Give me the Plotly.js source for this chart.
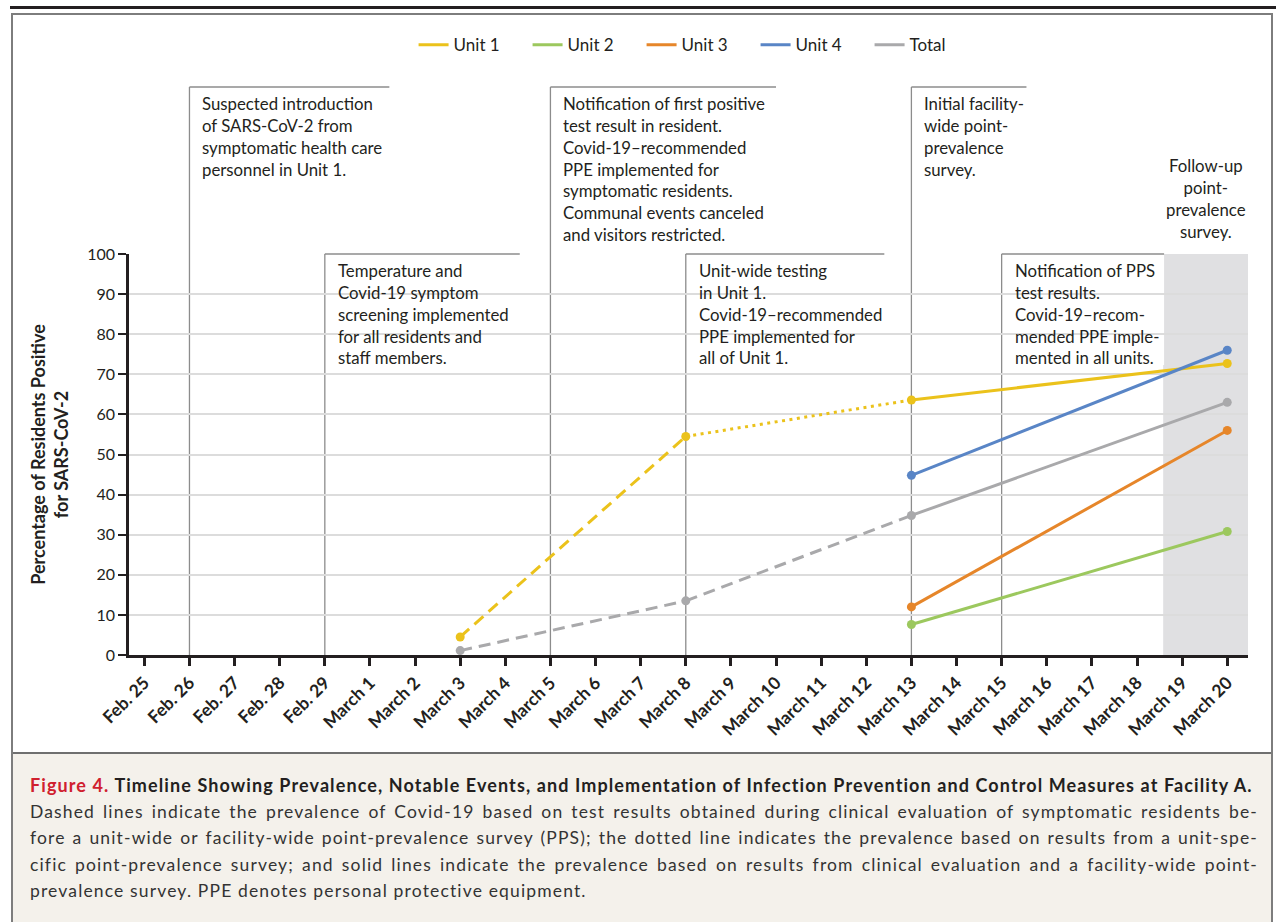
<!DOCTYPE html>
<html>
<head>
<meta charset="utf-8">
<script src="https://cdn.plot.ly/plotly-3.0.1.min.js"></script>
<style>
  body { margin: 0; background: #ffffff; }
  #wrap { position: relative; width: 1276px; height: 922px; overflow: hidden; font-family: Lato, "Open Sans", sans-serif; background: #fff; }
  #chart { position: absolute; left: 0; top: 0; width: 1276px; height: 753px; }
  .topbar { position: absolute; left: 10px; top: 6px; width: 1266px; height: 3px; background: #231f20; }
  .frame { position: absolute; left: 11px; top: 13px; width: 1258px; height: 1000px; border: 2px solid #7d7d7d; border-bottom: none; pointer-events: none; }
  .sep { position: absolute; left: 11px; top: 752px; width: 1262px; height: 2px; background: #6f6f6f; }
  #caption { position: absolute; left: 13px; top: 754px; width: 1258px; height: 168px; background: #f4f1eb; box-sizing: border-box; padding: 18px 13px 0 17px; color: #333; }
  #caption .ln { font-size: 17.5px; line-height: 26.5px; white-space: nowrap; text-align: justify; text-align-last: justify; letter-spacing: 1.15px; }
  #caption .ln.last { text-align: left; text-align-last: left; }
  #caption .title { font-size: 18px; font-weight: 700; color: #231f20; text-align: left; text-align-last: left; letter-spacing: 1.1px; }
  #caption .red { color: #d0202e; }
</style>
</head>
<body>
<div id="wrap">
  <div id="chart"></div>
  <div class="topbar"></div>
  <div class="sep"></div>
  <div id="caption">
    <div class="ln title"><span class="red">Figure 4.</span> Timeline Showing Prevalence, Notable Events, and Implementation of Infection Prevention and Control Measures at Facility A.</div>
    <div class="ln">Dashed lines indicate the prevalence of Covid-19 based on test results obtained during clinical evaluation of symptomatic residents be-</div>
    <div class="ln">fore a unit-wide or facility-wide point-prevalence survey (PPS); the dotted line indicates the prevalence based on results from a unit-spe-</div>
    <div class="ln">cific point-prevalence survey; and solid lines indicate the prevalence based on results from clinical evaluation and a facility-wide point-</div>
    <div class="ln last">prevalence survey. PPE denotes personal protective equipment.</div>
  </div>
  <div class="frame"></div>
</div>
<script>
// ---------------- DATA ----------------
const categories = ['Feb. 25','Feb. 26','Feb. 27','Feb. 28','Feb. 29','March 1','March 2','March 3','March 4',
  'March 5','March 6','March 7','March 8','March 9','March 10','March 11','March 12','March 13','March 14',
  'March 15','March 16','March 17','March 18','March 19','March 20'];

const unit1Dates  = ['March 3','March 8','March 13','March 20'];
const unit1Values = [4.5, 54.5, 63.6, 72.7];
const unit1Kinds  = ['dash','dot','solid'];

const unit2Dates  = ['March 13','March 20'];
const unit2Values = [7.6, 30.8];
const unit2Kinds  = ['solid'];

const unit3Dates  = ['March 13','March 20'];
const unit3Values = [12.0, 56.0];
const unit3Kinds  = ['solid'];

const unit4Dates  = ['March 13','March 20'];
const unit4Values = [44.8, 76.0];
const unit4Kinds  = ['solid'];

const totalDates  = ['March 3','March 8','March 13','March 20'];
const totalValues = [1.1, 13.5, 34.8, 63.0];
const totalKinds  = ['dash','dash','solid'];

const eventDates = ['Feb. 26','Feb. 29','March 5','March 8','March 13','March 15'];
const eventTexts = [
  'Suspected introduction<br>of SARS-CoV-2 from<br>symptomatic health care<br>personnel in Unit 1.',
  'Temperature and<br>Covid-19 symptom<br>screening implemented<br>for all residents and<br>staff members.',
  'Notification of first positive<br>test result in resident.<br>Covid-19–recommended<br>PPE implemented for<br>symptomatic residents.<br>Communal events canceled<br>and visitors restricted.',
  'Unit-wide testing<br>in Unit 1.<br>Covid-19–recommended<br>PPE implemented for<br>all of Unit 1.',
  'Initial facility-<br>wide point-<br>prevalence<br>survey.',
  'Notification of PPS<br>test results.<br>Covid-19–recom-<br>mended PPE imple-<br>mented in all units.'
];
const followUpText = 'Follow-up<br>point-<br>prevalence<br>survey.';

// ---------------- STYLE / LAYOUT ----------------
const colors = { 'Unit 1':'#ebc21b', 'Unit 2':'#9cc85e', 'Unit 3':'#e6862a', 'Unit 4':'#5985c6', 'Total':'#a9a9ab' };
const dashMap = { solid:'solid', dash:'12px,7px', dot:'3px,4.5px' };
// box geometry: [top in paper units, width in category units]
const boxGeom = [[1.4165, 4.43],[1.0, 4.32],[1.4165, 5.0],[1.0, 4.4],[1.4165, 2.55],[1.0, 3.6]];
const shortBoxBottom = 0.723;
const shadeStart = 22.58, xMin = -0.34, xMax = 24.46;

function seriesTraces(name, dates, values, kinds, rank) {
  const out = [];
  for (let i = 0; i < kinds.length; i++) {
    out.push({
      type:'scatter', mode:'lines', name:name, legendgroup:name, legendrank:rank,
      x: dates.slice(i, i+2), y: values.slice(i, i+2),
      line:{ color: colors[name], width: 3, dash: dashMap[kinds[i]] },
      showlegend: kinds[i] === 'solid', hoverinfo:'skip', cliponaxis:false
    });
  }
  out.push({
    type:'scatter', mode:'markers', name:name, legendgroup:name, showlegend:false,
    x: dates, y: values, marker:{ color: colors[name], size: 9 }, cliponaxis:false,
    hovertemplate: name + ' %{x}: %{y}%<extra></extra>'
  });
  return out;
}

const data = [].concat(
  seriesTraces('Total', totalDates, totalValues, totalKinds, 5),
  seriesTraces('Unit 3', unit3Dates, unit3Values, unit3Kinds, 3),
  seriesTraces('Unit 2', unit2Dates, unit2Values, unit2Kinds, 2),
  seriesTraces('Unit 1', unit1Dates, unit1Values, unit1Kinds, 1),
  seriesTraces('Unit 4', unit4Dates, unit4Values, unit4Kinds, 4)
);

const lineStyle = { color:'#8c8c8c', width:1.3 };
const shapes = [{
  type:'rect', xref:'x', yref:'paper', x0:shadeStart, x1:xMax, y0:0, y1:1,
  fillcolor:'#e0e0e2', line:{width:0}, layer:'below'
}];
const annotations = [];
eventDates.forEach((d, i) => {
  const idx = categories.indexOf(d);
  const [top, w] = boxGeom[i];
  if (top <= 1.0001) {
    shapes.push({ type:'rect', xref:'x', yref:'paper', x0:idx, x1:idx+w, y0:shortBoxBottom, y1:top,
      fillcolor:'#ffffff', line:{width:0}, layer:'between' });
  }
  shapes.push({ type:'line', xref:'x', yref:'paper', x0:idx, x1:idx, y0:0, y1:top, line:lineStyle, layer:'between' });
  shapes.push({ type:'line', xref:'x', yref:'paper', x0:idx, x1:idx+w, y0:top, y1:top, line:lineStyle, layer:'between' });
  annotations.push({
    xref:'x', yref:'paper', x:idx, y:top, xanchor:'left', yanchor:'top', xshift:11, yshift:-4,
    align:'left', showarrow:false, text:eventTexts[i], font:{ size:16.8, color:'#231f20' }
  });
});
annotations.push({
  xref:'x', yref:'paper', x:(shadeStart + xMax)/2, y:1, xanchor:'center', yanchor:'bottom', yshift:10,
  align:'center', showarrow:false, text:followUpText, font:{ size:16.8, color:'#231f20' }
});

const layout = {
  width:1276, height:753,
  margin:{ l:129, r:28, t:254, b:98 },
  paper_bgcolor:'rgba(0,0,0,0)', plot_bgcolor:'rgba(0,0,0,0)',
  font:{ family:'Lato, "Open Sans", sans-serif', color:'#231f20' },
  showlegend:true,
  legend:{ orientation:'h', x:0.509, xanchor:'center', y:1.521, yanchor:'middle',
    font:{ size:17, color:'#231f20' }, entrywidth:69, entrywidthmode:'pixels', itemclick:false, itemdoubleclick:false },
  xaxis:{ type:'category', categoryorder:'array', categoryarray:categories, range:[xMin, xMax],
    showgrid:false, zeroline:false, showline:true, linecolor:'#231f20', linewidth:2.5,
    ticks:'outside', ticklen:8, tickwidth:2.5, tickcolor:'#231f20', tickangle:-45,
    tickfont:{ size:17.5, weight:700, color:'#231f20' }, fixedrange:true },
  yaxis:{ range:[0,100], dtick:10, tick0:0, showgrid:true, gridcolor:'#dcdcdc', gridwidth:2,
    zeroline:false, showline:true, linecolor:'#231f20', linewidth:2.5,
    ticks:'outside', ticklen:8, tickwidth:2, tickcolor:'#231f20',
    tickfont:{ size:16, color:'#231f20' }, fixedrange:true,
    title:{ text:'Percentage of Residents Positive<br>for SARS-CoV-2', font:{ size:18, weight:700, color:'#231f20' }, standoff:14 } },
  shapes:shapes,
  annotations:annotations
};

Plotly.newPlot('chart', data, layout, { displayModeBar:false, responsive:false });
</script>
</body>
</html>
